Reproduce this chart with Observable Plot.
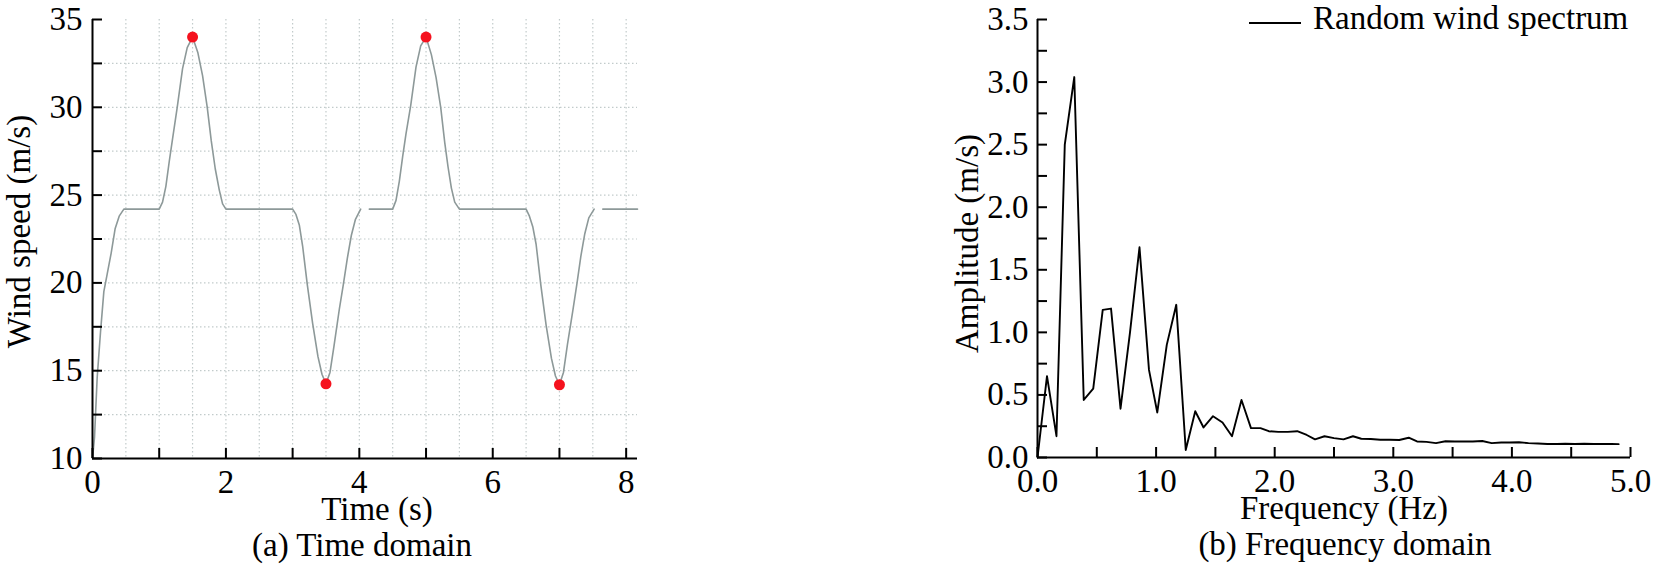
<!DOCTYPE html>
<html>
<head>
<meta charset="utf-8">
<script src="https://cdn.jsdelivr.net/npm/d3@7"></script>
<script src="https://cdn.jsdelivr.net/npm/@observablehq/plot@0.6"></script>
<style>
  html, body { margin: 0; padding: 0; background: #fff; }
  #wrap { position: relative; width: 1654px; height: 568px; overflow: hidden; background: #fff; }
  #left { position: absolute; left: 0; top: 0; width: 660px; height: 568px; }
  #right { position: absolute; left: 880px; top: 0; width: 774px; height: 568px; }
  #legend-line { position: absolute; left: 1249px; top: 22px; width: 52px; height: 2px; background: #000; }
  #legend-text { position: absolute; left: 1313px; top: 2px; font-family: "Liberation Serif", "Times New Roman", serif; font-size: 33px; line-height: 1; white-space: nowrap; color: #000; }
</style>
</head>
<body>
<div id="wrap">
  <div id="left"></div>
  <div id="right"></div>
  <div id="legend-line"></div>
  <div id="legend-text">Random wind spectrum</div>
</div>
<script>
// ---------- (a) Time domain ----------
const timeS = [
  0, 0.03, 0.07, 0.12, 0.17, 0.22, 0.28, 0.34, 0.40, 0.47,
  1.0, 1.05, 1.1, 1.15, 1.2, 1.27, 1.35, 1.42, 1.5, 1.58, 1.65, 1.72, 1.78, 1.84, 1.9, 1.95, 2.0,
  3.0, 3.05, 3.1, 3.15, 3.22, 3.3, 3.38, 3.44, 3.5, 3.56, 3.62, 3.7, 3.76, 3.82, 3.88, 3.94, 4.02,
  4.08,
  4.15, 4.5, 4.55, 4.6, 4.65, 4.7, 4.77, 4.85, 4.92, 5.0, 5.08, 5.15, 5.22, 5.28, 5.33, 5.38, 5.43, 5.5,
  6.5, 6.55, 6.6, 6.65, 6.72, 6.8, 6.88, 6.94, 7.0, 7.06, 7.12, 7.2, 7.26, 7.32, 7.38, 7.44, 7.52,
  7.58,
  7.65, 8.17
];
const windSpeed = [
  10.0, 11.2, 14.6, 17.2, 19.5, 20.5, 21.7, 23.1, 23.8, 24.2,
  24.2, 24.6, 25.5, 26.9, 28.2, 30.0, 32.2, 33.4, 34.0, 33.1, 31.8, 30.0, 28.1, 26.5, 25.3, 24.5, 24.2,
  24.2, 23.9, 23.3, 22.1, 19.9, 17.7, 15.8, 14.8, 14.25, 14.9, 16.4, 18.5, 19.9, 21.4, 22.7, 23.6, 24.2,
  null,
  24.2, 24.2, 24.7, 25.8, 27.2, 28.5, 30.1, 32.3, 33.5, 34.0, 33.0, 31.7, 30.0, 28.0, 26.6, 25.4, 24.6, 24.2,
  24.2, 23.8, 23.2, 22.2, 19.9, 17.6, 15.7, 14.7, 14.2, 14.9, 16.5, 18.4, 19.9, 21.5, 22.8, 23.7, 24.2,
  null,
  24.2, 24.2
];
const extremeTime = [1.5, 3.5, 5.0, 7.0];
const extremeSpeed = [34.0, 14.25, 34.0, 14.2];

const timeTicks = [0, 1, 2, 3, 4, 5, 6, 7, 8];
const timeTickLabels = [0, 2, 4, 6, 8];
const timeGrid = [0.5, 1, 1.5, 2, 2.5, 3, 3.5, 4, 4.5, 5, 5.5, 6, 6.5, 7, 7.5, 8];
const speedTicks = [10, 12.5, 15, 17.5, 20, 22.5, 25, 27.5, 30, 32.5, 35];
const speedTickLabels = [10, 15, 20, 25, 30, 35];
const speedGrid = [12.5, 15, 17.5, 20, 22.5, 25, 27.5, 30, 32.5];

// ---------- (b) Frequency domain ----------
const freqHz = [
  0, 0.08, 0.16, 0.23, 0.31, 0.39, 0.47, 0.55, 0.62, 0.70,
  0.78, 0.86, 0.94, 1.01, 1.09, 1.17, 1.25, 1.33, 1.40, 1.48,
  1.56, 1.64, 1.72, 1.80, 1.88, 1.95, 2.03, 2.11, 2.19, 2.27,
  2.34, 2.42, 2.50, 2.58, 2.66, 2.73, 2.81, 2.89, 2.97, 3.05,
  3.13, 3.20, 3.28, 3.36, 3.44, 3.52, 3.59, 3.67, 3.75, 3.83,
  3.91, 3.98, 4.06, 4.14, 4.22, 4.30, 4.38, 4.45, 4.53, 4.61,
  4.69, 4.77, 4.84, 4.90
];
const amplitude = [
  0, 0.65, 0.17, 2.50, 3.04, 0.46, 0.55, 1.18, 1.19, 0.39,
  1.0, 1.68, 0.70, 0.36, 0.9, 1.22, 0.06, 0.37, 0.24, 0.33,
  0.28, 0.17, 0.46, 0.235, 0.235, 0.21, 0.205, 0.205, 0.21, 0.18,
  0.145, 0.17, 0.155, 0.145, 0.17, 0.15, 0.148, 0.142, 0.142, 0.14,
  0.158, 0.128, 0.125, 0.115, 0.13, 0.128, 0.128, 0.128, 0.132, 0.115,
  0.12, 0.12, 0.122, 0.115, 0.112, 0.108, 0.108, 0.11, 0.108, 0.11,
  0.108, 0.108, 0.108, 0.107
];
const freqTicks = [0, 0.5, 1, 1.5, 2, 2.5, 3, 3.5, 4, 4.5, 5];
const freqTickLabels = [0, 1, 2, 3, 4, 5];
const ampTicks = [0, 0.25, 0.5, 0.75, 1, 1.25, 1.5, 1.75, 2, 2.25, 2.5, 2.75, 3, 3.25, 3.5];
const ampTickLabels = [0, 0.5, 1, 1.5, 2, 2.5, 3, 3.5];

// ---------- shared style ----------
const FONT = '"Liberation Serif", "Times New Roman", serif';
const baseStyle = { fontFamily: FONT, fontSize: "33px", color: "#000", background: "transparent", overflow: "visible" };
const titleOpts = { text: d => d, textAnchor: "middle", lineAnchor: "middle", fill: "#000" };

// ---------- left chart ----------
const LW = 660, LH = 568, LML = 92, LMR = 23, LMT = 19, LMB = 110;
const timeData = timeS.map((t, i) => ({ t, v: windSpeed[i] }));
const extremes = extremeTime.map((t, i) => ({ t, v: extremeSpeed[i] }));

const left = Plot.plot({
  width: LW, height: LH,
  marginLeft: LML, marginRight: LMR, marginTop: LMT, marginBottom: LMB,
  style: baseStyle,
  x: { domain: [0, 8.17] },
  y: { domain: [10, 35] },
  marks: [
    Plot.ruleX(timeGrid, { x: d => d, stroke: "#c2cbcb", strokeWidth: 1.2, strokeDasharray: "1.5,2.5" }),
    Plot.ruleY(speedGrid, { y: d => d, stroke: "#c2cbcb", strokeWidth: 1.2, strokeDasharray: "1.5,2.5" }),
    Plot.line(timeData, { x: "t", y: "v", stroke: "#8d9999", strokeWidth: 1.6 }),
    Plot.dot(extremes, { x: "t", y: "v", r: 5.5, fill: "#f5121e", stroke: "none" }),
    Plot.ruleX([0], { x: d => d, stroke: "#000", strokeWidth: 2 }),
    Plot.ruleY([10], { y: d => d, stroke: "#000", strokeWidth: 2 }),
    Plot.tickX(timeTicks, { x: d => d, stroke: "#000", strokeWidth: 2, insetTop: (LH - LMT - LMB) - 10 }),
    Plot.tickY(speedTicks, { y: d => d, stroke: "#000", strokeWidth: 2, insetRight: (LW - LML - LMR) - 10 }),
    Plot.axisX(timeTickLabels, { tickSize: 0, tickPadding: 10.6, label: null, fill: "#000" }),
    Plot.axisY(speedTickLabels, { tickSize: 0, tickPadding: 10, label: null, fill: "#000" }),
    Plot.text(["Time (s)"], { ...titleOpts, frameAnchor: "bottom", dy: 51.4, dx: 12 }),
    Plot.text(["(a) Time domain"], { ...titleOpts, frameAnchor: "bottom", dy: 87.4, dx: -3 }),
    Plot.text(["Wind speed (m/s)"], { ...titleOpts, frameAnchor: "left", rotate: -90, dx: -72.8, dy: -7.5 })
  ]
});
document.getElementById("left").appendChild(left);

// ---------- right chart ----------
const RW = 774, RH = 568, RML = 157, RMR = 24, RMT = 19, RMB = 111;
const specData = freqHz.map((f, i) => ({ f, a: amplitude[i] }));
const fmt1 = d3.format(".1f");

const right = Plot.plot({
  width: RW, height: RH,
  marginLeft: RML, marginRight: RMR, marginTop: RMT, marginBottom: RMB,
  style: baseStyle,
  x: { domain: [0, 5] },
  y: { domain: [0, 3.5] },
  marks: [
    Plot.line(specData, { x: "f", y: "a", stroke: "#000", strokeWidth: 1.9 }),
    Plot.ruleX([0], { x: d => d, stroke: "#000", strokeWidth: 2 }),
    Plot.ruleY([0], { y: d => d, stroke: "#000", strokeWidth: 2 }),
    Plot.tickX(freqTicks, { x: d => d, stroke: "#000", strokeWidth: 2, insetTop: (RH - RMT - RMB) - 10 }),
    Plot.tickY(ampTicks, { y: d => d, stroke: "#000", strokeWidth: 2, insetRight: (RW - RML - RMR) - 10 }),
    Plot.axisX(freqTickLabels, { tickSize: 0, tickPadding: 10.6, tickFormat: fmt1, label: null, fill: "#000" }),
    Plot.axisY(ampTickLabels, { tickSize: 0, tickPadding: 9, tickFormat: fmt1, label: null, fill: "#000" }),
    Plot.text(["Frequency (Hz)"], { ...titleOpts, frameAnchor: "bottom", dy: 51.4, dx: 10 }),
    Plot.text(["(b) Frequency domain"], { ...titleOpts, frameAnchor: "bottom", dy: 87.4, dx: 11 }),
    Plot.text(["Amplitude (m/s)"], { ...titleOpts, frameAnchor: "left", rotate: -90, dx: -70.5, dy: 5 })
  ]
});
document.getElementById("right").appendChild(right);
</script>
</body>
</html>
